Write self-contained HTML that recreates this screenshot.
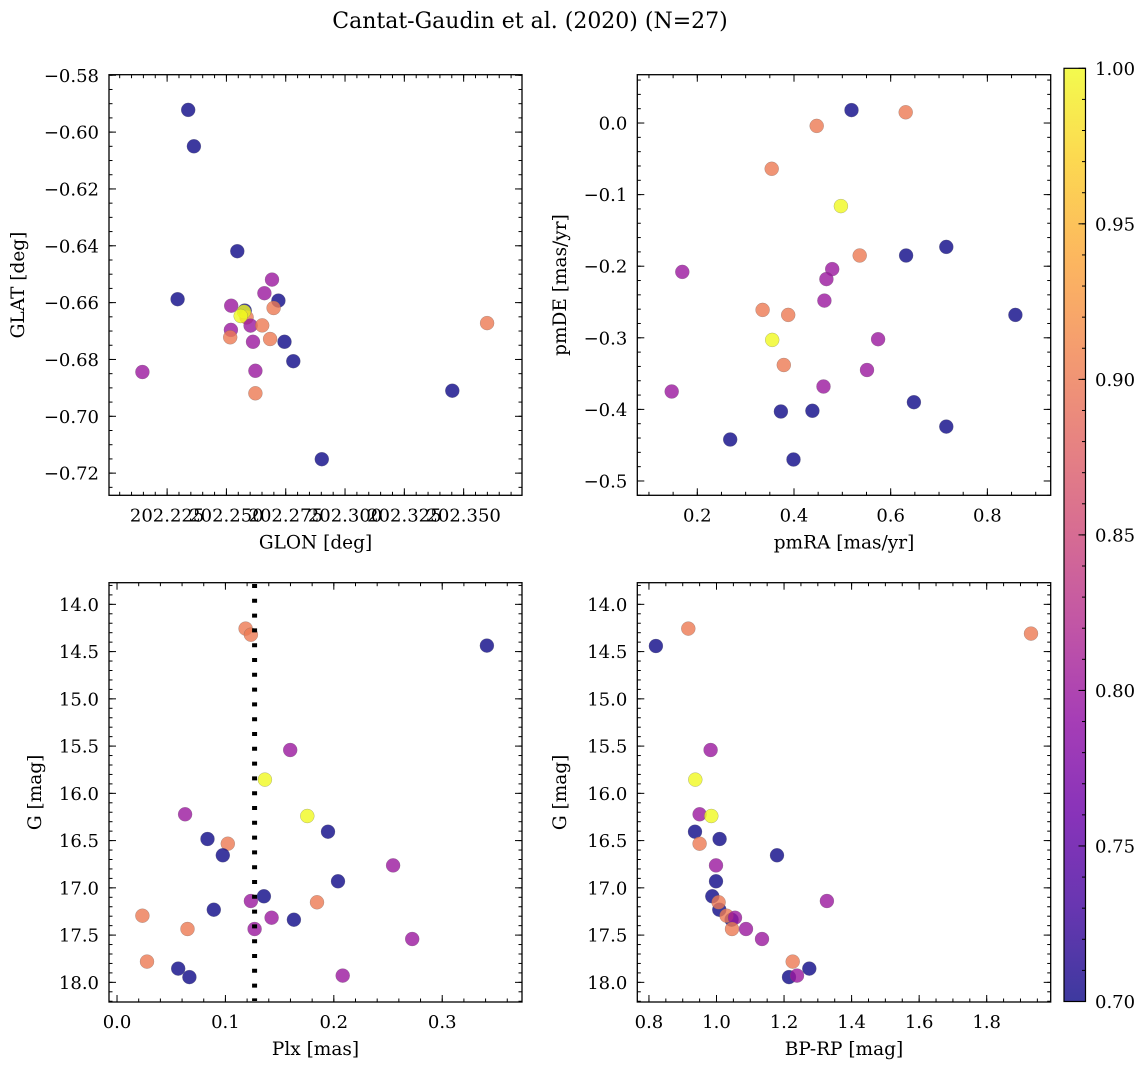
<!DOCTYPE html>
<html><head><meta charset="utf-8">
<style>
html,body{margin:0;padding:0;background:#fff;}
svg{display:block;font-family:"DejaVu Serif","Liberation Serif",serif;}
</style></head>
<body>
<svg id="fig" width="1148" height="1068" viewBox="0 0 1148 1068" xmlns="http://www.w3.org/2000/svg">
<defs>
<linearGradient id="plasma" x1="0" y1="1" x2="0" y2="0">
<stop offset="0" stop-color="#0d0887"/><stop offset="0.1" stop-color="#41049d"/><stop offset="0.2" stop-color="#6a00a8"/>
<stop offset="0.3" stop-color="#8f0da4"/><stop offset="0.4" stop-color="#b12a90"/><stop offset="0.5" stop-color="#cc4778"/>
<stop offset="0.6" stop-color="#e16462"/><stop offset="0.7" stop-color="#f2844b"/><stop offset="0.8" stop-color="#fca636"/>
<stop offset="0.9" stop-color="#fcce25"/><stop offset="1" stop-color="#f0f921"/>
</linearGradient>
</defs>
<text x="530" y="28" font-size="22" text-anchor="middle">Cantat-Gaudin et al. (2020) (N=27)</text>
</svg>
<script>
// ---- data ----
const prob = {b:0.7, m:0.8, s:0.9, y:1.0};
// Panel 1: GLON / GLAT
const p1Glon = [202.2339,202.2363,202.2546,202.2294,202.2692,202.2660,202.2719,202.2699,202.2520,202.2577,202.2585,202.2602,202.2651,202.2519,202.2516,202.2684,202.2612,202.2745,202.2782,202.2146,202.2622,202.2622,202.3452,202.2902,202.3599,202.2574,202.2560];
const p1Glat = [-0.5922,-0.6050,-0.6419,-0.6588,-0.6519,-0.6567,-0.6593,-0.6619,-0.6611,-0.6628,-0.6652,-0.6681,-0.6680,-0.6696,-0.6722,-0.6728,-0.6738,-0.6738,-0.6806,-0.6844,-0.6840,-0.6919,-0.6910,-0.7151,-0.6672,-0.6632,-0.6647];
const p1Cls  = ['b','b','b','b','m','m','b','s','m','b','s','m','s','m','s','s','m','b','b','m','m','s','b','b','s','y','y'];
// Panel 2: pmRA / pmDE
const p2PmRA = [0.519,0.631,0.447,0.354,0.497,0.715,0.632,0.536,0.169,0.479,0.467,0.463,0.335,0.388,0.858,0.355,0.574,0.379,0.551,0.147,0.461,0.648,0.373,0.438,0.715,0.268,0.399];
const p2PmDE = [0.018,0.015,-0.004,-0.064,-0.116,-0.173,-0.185,-0.185,-0.208,-0.204,-0.218,-0.248,-0.261,-0.268,-0.268,-0.303,-0.302,-0.338,-0.345,-0.375,-0.368,-0.390,-0.403,-0.402,-0.424,-0.442,-0.470];
const p2Cls  = ['b','s','s','s','y','b','b','s','m','m','m','m','s','s','b','y','m','s','m','m','m','b','b','b','b','b','b'];
// Panel 3: Plx / G
const p3Plx = [0.1186,0.1235,0.3412,0.1598,0.1364,0.0628,0.1755,0.1946,0.0835,0.1022,0.0976,0.2547,0.2039,0.1355,0.1235,0.1845,0.0893,0.0234,0.1426,0.1632,0.0650,0.1269,0.2723,0.0277,0.0564,0.0668,0.2082];
const p3G   = [14.257,14.321,14.437,15.541,15.855,16.222,16.240,16.406,16.483,16.533,16.656,16.762,16.931,17.090,17.139,17.153,17.231,17.295,17.316,17.337,17.436,17.436,17.541,17.781,17.855,17.944,17.929];
const p3Cls = ['s','s','b','m','y','m','y','b','b','s','b','m','b','b','m','s','b','s','m','b','s','m','m','s','b','b','m'];
const plxCut = 0.1269;
// Panel 4: BP-RP / G
const p4Col = [0.8207,0.9165,1.9313,0.9826,0.9372,0.950,0.9846,0.9362,1.0093,0.950,1.179,0.9984,0.9984,0.9876,1.327,1.0448,1.0083,1.030,1.0547,1.0063,1.0458,1.0873,1.1347,1.2255,1.2748,1.2146,1.2383];
const p4G   = [14.441,14.257,14.310,15.541,15.855,16.222,16.240,16.406,16.483,16.533,16.656,16.762,16.931,17.090,17.139,17.337,17.231,17.295,17.316,17.153,17.436,17.436,17.541,17.781,17.855,17.944,17.929];
const p4Cls = ['b','s','s','m','y','m','y','b','b','s','b','m','b','b','m','b','b','s','m','s','s','m','m','s','b','b','m'];
// tick labels
const t1x = ['202.225','202.250','202.275','202.300','202.325','202.350'];
const t1y = ['−0.58','−0.60','−0.62','−0.64','−0.66','−0.68','−0.70','−0.72'];
const t2x = ['0.2','0.4','0.6','0.8'];
const t2y = ['0.0','−0.1','−0.2','−0.3','−0.4','−0.5'];
const t3x = ['0.0','0.1','0.2','0.3'];
const tGy = ['14.0','14.5','15.0','15.5','16.0','16.5','17.0','17.5','18.0'];
const t4x = ['0.8','1.0','1.2','1.4','1.6','1.8'];
const tcb = ['0.70','0.75','0.80','0.85','0.90','0.95','1.00'];

// ---- helpers ----
const NS='http://www.w3.org/2000/svg';
const svg=document.getElementById('fig');
const TF=18, LF=18.5;
function mk(tag,attrs,parent){const e=document.createElementNS(NS,tag);for(const k in attrs)e.setAttribute(k,attrs[k]);(parent||svg).appendChild(e);return e;}
const stops=[[13,8,135],[65,4,157],[106,0,168],[143,13,164],[177,42,144],[204,71,120],[225,100,98],[242,132,75],[252,166,54],[252,206,37],[240,249,33]];
function plasma(t){t=Math.max(0,Math.min(1,t))*10;const i=Math.min(9,Math.floor(t)),f=t-i;const a=stops[i],b=stops[i+1];
 return 'rgb('+[0,1,2].map(k=>Math.round(a[k]+(b[k]-a[k])*f)).join(',')+')';}
function cmap(v){return plasma((v-0.7)/0.3);}
function lin(d0,d1,r0,r1){return v=>r0+(v-d0)/(d1-d0)*(r1-r0);}
function fmtNum(s){return parseFloat(s.replace('−','-'));}

function panel(name,box,xd,yd,xt,xMinor,yt,yMinor,xlab,ylab,ylabX,xs,ys,cls){
 const g=mk('g',{});
 
 
 const X=lin(xd[0],xd[1],box.x0,box.x1), Y=lin(yd[0],yd[1],box.y0,box.y1);
 const pg=mk('g',{},g);
 
 
 for(let i=0;i<xs.length;i++){
  const c=mk('circle',{cx:X(xs[i]).toFixed(1),cy:Y(ys[i]).toFixed(1),r:7,fill:cmap(prob[cls[i]]),'fill-opacity':0.8,stroke:'#666','stroke-width':0.4,'stroke-opacity':0.6},pg);
  
  
 }
 const tg=mk('g',{stroke:'#000','stroke-width':1},g);
 const lo=Math.min(xd[0],xd[1]),hi=Math.max(xd[0],xd[1]);
 for(let v=Math.ceil(lo/xMinor-1e-6)*xMinor; v<=hi+1e-9; v+=xMinor){const px=X(v);
  mk('line',{x1:px,x2:px,y1:box.y1,y2:box.y1-3.5},tg);mk('line',{x1:px,x2:px,y1:box.y0,y2:box.y0+3.5},tg);}
 const ylo=Math.min(yd[0],yd[1]),yhi=Math.max(yd[0],yd[1]);
 for(let v=Math.ceil(ylo/yMinor-1e-6)*yMinor; v<=yhi+1e-9; v+=yMinor){const py=Y(v);
  mk('line',{x1:box.x0,x2:box.x0+3.5,y1:py,y2:py},tg);mk('line',{x1:box.x1,x2:box.x1-3.5,y1:py,y2:py},tg);}
 xt.forEach(s=>{const v=fmtNum(s),px=X(v);
  mk('line',{x1:px,x2:px,y1:box.y1,y2:box.y1-7},tg);mk('line',{x1:px,x2:px,y1:box.y0,y2:box.y0+7},tg);
  const t=mk('text',{x:px,y:box.y1+26,'font-size':TF,'text-anchor':'middle'},g);t.textContent=s;
  
  });
 yt.forEach(s=>{const v=fmtNum(s),py=Y(v);
  mk('line',{x1:box.x0,x2:box.x0+7,y1:py,y2:py},tg);mk('line',{x1:box.x1,x2:box.x1-7,y1:py,y2:py},tg);
  const t=mk('text',{x:box.x0-10,y:py+6.5,'font-size':TF,'text-anchor':'end'},g);t.textContent=s;
  
  });
 mk('rect',{x:box.x0,y:box.y0,width:box.x1-box.x0,height:box.y1-box.y0,fill:'none',stroke:'#000','stroke-width':1.3},g);
 const xl=mk('text',{x:(box.x0+box.x1)/2,y:box.y1+53,'font-size':LF,'text-anchor':'middle'},g);xl.textContent=xlab;
 
 
 const cy=(box.y0+box.y1)/2;
 const yl=mk('text',{x:ylabX,y:cy,'font-size':LF,'text-anchor':'middle',transform:'rotate(-90 '+ylabX+' '+cy+')'},g);yl.textContent=ylab;
 
 
 return {X,Y,g};
}

panel('panel-glon-glat',{x0:109,x1:522,y0:74.7,y1:495.3},[202.2005,202.3746],[-0.5798,-0.7278],t1x,0.005,t1y,0.005,'GLON [deg]','GLAT [deg]',24,p1Glon,p1Glat,p1Cls);
panel('panel-pm',{x0:637.3,x1:1050.7,y0:74.7,y1:495.3},[0.0759,0.931],[0.0675,-0.520],t2x,0.05,t2y,0.02,'pmRA [mas/yr]','pmDE [mas/yr]',566,p2PmRA,p2PmDE,p2Cls);
const p3=panel('panel-plx-g',{x0:109,x1:522,y0:582.7,y1:1002},[-0.0074,0.3736],[13.771,18.208],t3x,0.02,tGy,0.1,'Plx [mas]','G [mag]',41,p3Plx,p3G,p3Cls);
panel('panel-cmd',{x0:637.3,x1:1050.7,y0:582.7,y1:1002},[0.7655,1.9895],[13.771,18.208],t4x,0.05,tGy,0.1,'BP-RP [mag]','G [mag]',566,p4Col,p4G,p4Cls);
const cut=mk('line',{x1:p3.X(plxCut),x2:p3.X(plxCut),y1:584,y2:1001,stroke:'#000','stroke-width':5,'stroke-dasharray':'4 10.8'},p3.g);



const cb=mk('g',{});


const CY=lin(0.7,1.0,1001.5,68.3);
mk('rect',{x:1064,y:68.3,width:21.5,height:933.2,fill:'url(#plasma)','fill-opacity':0.8},cb);
mk('rect',{x:1064,y:68.3,width:21.5,height:933.2,fill:'none',stroke:'#000','stroke-width':1.2},cb);
for(let v=0.7;v<=1.0001;v+=0.01){mk('line',{x1:1085.5,x2:1082,y1:CY(v),y2:CY(v),stroke:'#000','stroke-width':1},cb);}
tcb.forEach(s=>{const py=CY(parseFloat(s));
 mk('line',{x1:1085.5,x2:1078.5,y1:py,y2:py,stroke:'#000','stroke-width':1},cb);
 const t=mk('text',{x:1095,y:py+6.5,'font-size':TF},cb);t.textContent=s;
 
 });
</script>
</body></html>
